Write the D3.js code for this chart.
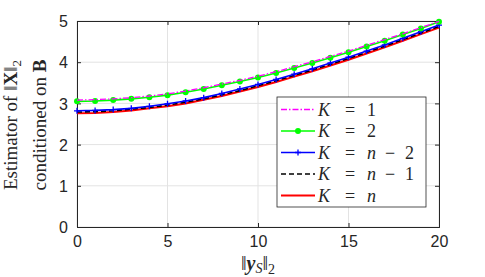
<!DOCTYPE html>
<html>
<head>
<meta charset="utf-8">
<script src="https://cdn.jsdelivr.net/npm/d3@7"></script>
<style>
  body { margin: 0; background: #fff; }
  svg text { fill: #262626; }
</style>
</head>
<body>
<div id="chart"></div>
<script>
let margin = {top: 21, right: 46, bottom: 50, left: 77}
let width = 485 - margin.left - margin.right;
let height = 277 - margin.top - margin.bottom;

// x values: ||y_S||_2 = 0..20
const xs = [0,1,2,3,4,5,6,7,8,9,10,11,12,13,14,15,16,17,18,19,20];
const k1  = [3.08,3.09,3.11,3.14,3.18,3.23,3.30,3.38,3.47,3.56,3.66,3.77,3.89,4.01,4.14,4.27,4.41,4.55,4.69,4.84,4.99];
const k2  = [3.05,3.06,3.08,3.11,3.15,3.20,3.27,3.35,3.44,3.53,3.63,3.74,3.86,3.98,4.11,4.24,4.38,4.52,4.67,4.82,4.98];
const kn2 = [2.82,2.83,2.85,2.88,2.93,2.99,3.06,3.14,3.24,3.35,3.46,3.58,3.71,3.84,3.98,4.12,4.27,4.42,4.58,4.74,4.90];
const kn1 = [2.79,2.80,2.82,2.86,2.90,2.96,3.03,3.11,3.21,3.31,3.43,3.55,3.68,3.81,3.95,4.09,4.24,4.39,4.55,4.71,4.87];
const kn  = [2.76,2.77,2.79,2.83,2.88,2.93,3.00,3.09,3.18,3.29,3.40,3.52,3.65,3.78,3.92,4.06,4.21,4.36,4.52,4.68,4.84];
const xTicks = [0,5,10,15,20];
const yTicks = [0,1,2,3,4,5];
const legendRhs = [['1'], ['2'], ['n', '\u2212', '2'], ['n', '\u2212', '1'], ['n']];

const series = [
  {vals: k1, color: '#ff00ff', dash: '6,2,1.5,2', width: 1.3, marker: null},
  {vals: k2, color: '#00ff00', dash: null, width: 1.6, marker: 'dot'},
  {vals: kn2, color: '#0000ff', dash: null, width: 1.6, marker: 'plus'},
  {vals: kn1, color: '#000000', dash: '5,3', width: 1.6, marker: null},
  {vals: kn, color: '#ff0000', dash: null, width: 2, marker: null}
];

let svg = d3.select('#chart').append('svg')
  .attr('width', 485).attr('height', 277)
  .style('font-family', 'Liberation Sans, Arial, sans-serif');

let chart = svg.append('g')
  .attr('transform', 'translate(' + margin.left + ',' + margin.top + ')');

let x = d3.scaleLinear().domain([0, 20]).range([0, width]);
let y = d3.scaleLinear().domain([0, 5]).range([height, 0]);

// grid
chart.append('g').selectAll('line').data(xTicks).enter().append('line')
  .attr('x1', d => x(d)).attr('x2', d => x(d))
  .attr('y1', 0).attr('y2', height)
  .attr('stroke', '#e3e3e3').attr('stroke-width', 1);
chart.append('g').selectAll('line').data(yTicks).enter().append('line')
  .attr('x1', 0).attr('x2', width)
  .attr('y1', d => y(d)).attr('y2', d => y(d))
  .attr('stroke', '#e3e3e3').attr('stroke-width', 1);

// axes (ticks inside, matlab style)
let xAxis = d3.axisBottom(x).tickValues(xTicks).tickSize(-4).tickPadding(9).tickFormat(d3.format('d'));
let yAxis = d3.axisLeft(y).tickValues(yTicks).tickSize(-4).tickPadding(9).tickFormat(d3.format('d'));

let gx = chart.append('g').attr('transform', 'translate(0,' + height + ')').call(xAxis);
let gy = chart.append('g').call(yAxis);
chart.append('g').call(d3.axisTop(x).tickValues(xTicks).tickSize(-4).tickFormat(''));
chart.append('g').attr('transform', 'translate(' + width + ',0)')
  .call(d3.axisRight(y).tickValues(yTicks).tickSize(-4).tickFormat(''));

chart.selectAll('.domain').attr('stroke', '#262626').attr('stroke-width', 1);
chart.selectAll('.tick line').attr('stroke', '#262626');
gx.selectAll('text').style('font-size', '16px').attr('fill', '#262626');
gy.selectAll('text').style('font-size', '16px').attr('fill', '#262626').attr('dy', '0.36em');

// lines
let line = d3.line().x((d, i) => x(xs[i])).y(d => y(d));
series.slice().reverse().forEach(s => {
  chart.append('path')
    .datum(s.vals)
    .attr('fill', 'none')
    .attr('stroke', s.color)
    .attr('stroke-width', s.width)
    .attr('stroke-dasharray', s.dash)
    .attr('d', line);
  if (s.marker === 'dot') {
    chart.append('g').selectAll('circle').data(s.vals).enter().append('circle')
      .attr('cx', (d, i) => x(xs[i])).attr('cy', d => y(d))
      .attr('r', 3).attr('fill', s.color);
  }
  if (s.marker === 'plus') {
    chart.append('g').selectAll('path').data(s.vals).enter().append('path')
      .attr('d', (d, i) => {
        let cx = x(xs[i]), cy = y(d);
        return 'M' + (cx - 3) + ',' + cy + 'H' + (cx + 3) + 'M' + cx + ',' + (cy - 3) + 'V' + (cy + 3);
      })
      .attr('stroke', s.color).attr('stroke-width', 1.3);
  }
});

// legend
let serif = 'Liberation Serif, Times New Roman, serif';
let legend = svg.append('g').attr('transform', 'translate(277,97)');
legend.append('rect')
  .attr('x', 0).attr('y', 0).attr('width', 149).attr('height', 110)
  .attr('fill', '#fff').attr('stroke', '#262626').attr('stroke-width', 0.8);

series.forEach((s, i) => {
  let ly = 12.5 + i * 21.5;
  let g = legend.append('g').attr('transform', 'translate(0,' + ly + ')')
    .style('font-family', serif).style('font-size', '18px');
  g.append('line')
    .attr('x1', 4).attr('x2', 38).attr('y1', 0).attr('y2', 0)
    .attr('stroke', s.color).attr('stroke-width', s.width)
    .attr('stroke-dasharray', s.dash);
  if (s.marker === 'dot') g.append('circle').attr('cx', 21).attr('cy', 0).attr('r', 3).attr('fill', s.color);
  if (s.marker === 'plus') g.append('path').attr('d', 'M18,0H24M21,-3V3').attr('stroke', s.color).attr('stroke-width', 1.3);
  let tx = 41;
  let rhs = legendRhs[i];
  let t = g.append('text').attr('y', 6);
  t.append('tspan').attr('x', tx).style('font-style', 'italic').text('K');
  t.append('tspan').attr('x', tx + 27).text('=');
  t.append('tspan').attr('x', tx + 49).style('font-style', rhs[0] === 'n' ? 'italic' : 'normal').text(rhs[0]);
  if (rhs.length > 1) {
    t.append('tspan').attr('x', tx + 67).text(rhs[1]);
    t.append('tspan').attr('x', tx + 87).text(rhs[2]);
  }
});

// x label
let xl = svg.append('text').attr('x', margin.left + width / 2).attr('y', 270)
  .attr('text-anchor', 'middle')
  .style('font-family', serif).style('font-size', '20px');
xl.append('tspan').text('\u2016');
xl.append('tspan').style('font-weight', 'bold').style('font-style', 'italic').text('y');
xl.append('tspan').style('font-style', 'italic').style('font-size', '14px').attr('dy', 3).text('S');
xl.append('tspan').attr('dy', -3).text('\u2016');
xl.append('tspan').style('font-size', '14px').attr('dy', 4).text('2');

// y label
let yl = svg.append('g').attr('transform', 'translate(0,' + (margin.top + height / 2 + 1) + ') rotate(-90)')
  .style('font-family', serif).style('font-size', '19px');
let y1 = yl.append('text').attr('x', 0).attr('y', 17).attr('text-anchor', 'middle');
y1.append('tspan').text('Estimator of \u2016');
y1.append('tspan').style('font-weight', 'bold').text('X');
y1.append('tspan').text('\u2016');
y1.append('tspan').style('font-size', '13px').attr('dy', 4).text('2');
let y2 = yl.append('text').attr('x', 0).attr('y', 46).attr('text-anchor', 'middle');
y2.append('tspan').text('conditioned on ');
y2.append('tspan').style('font-weight', 'bold').text('B');
</script>
</body>
</html>
